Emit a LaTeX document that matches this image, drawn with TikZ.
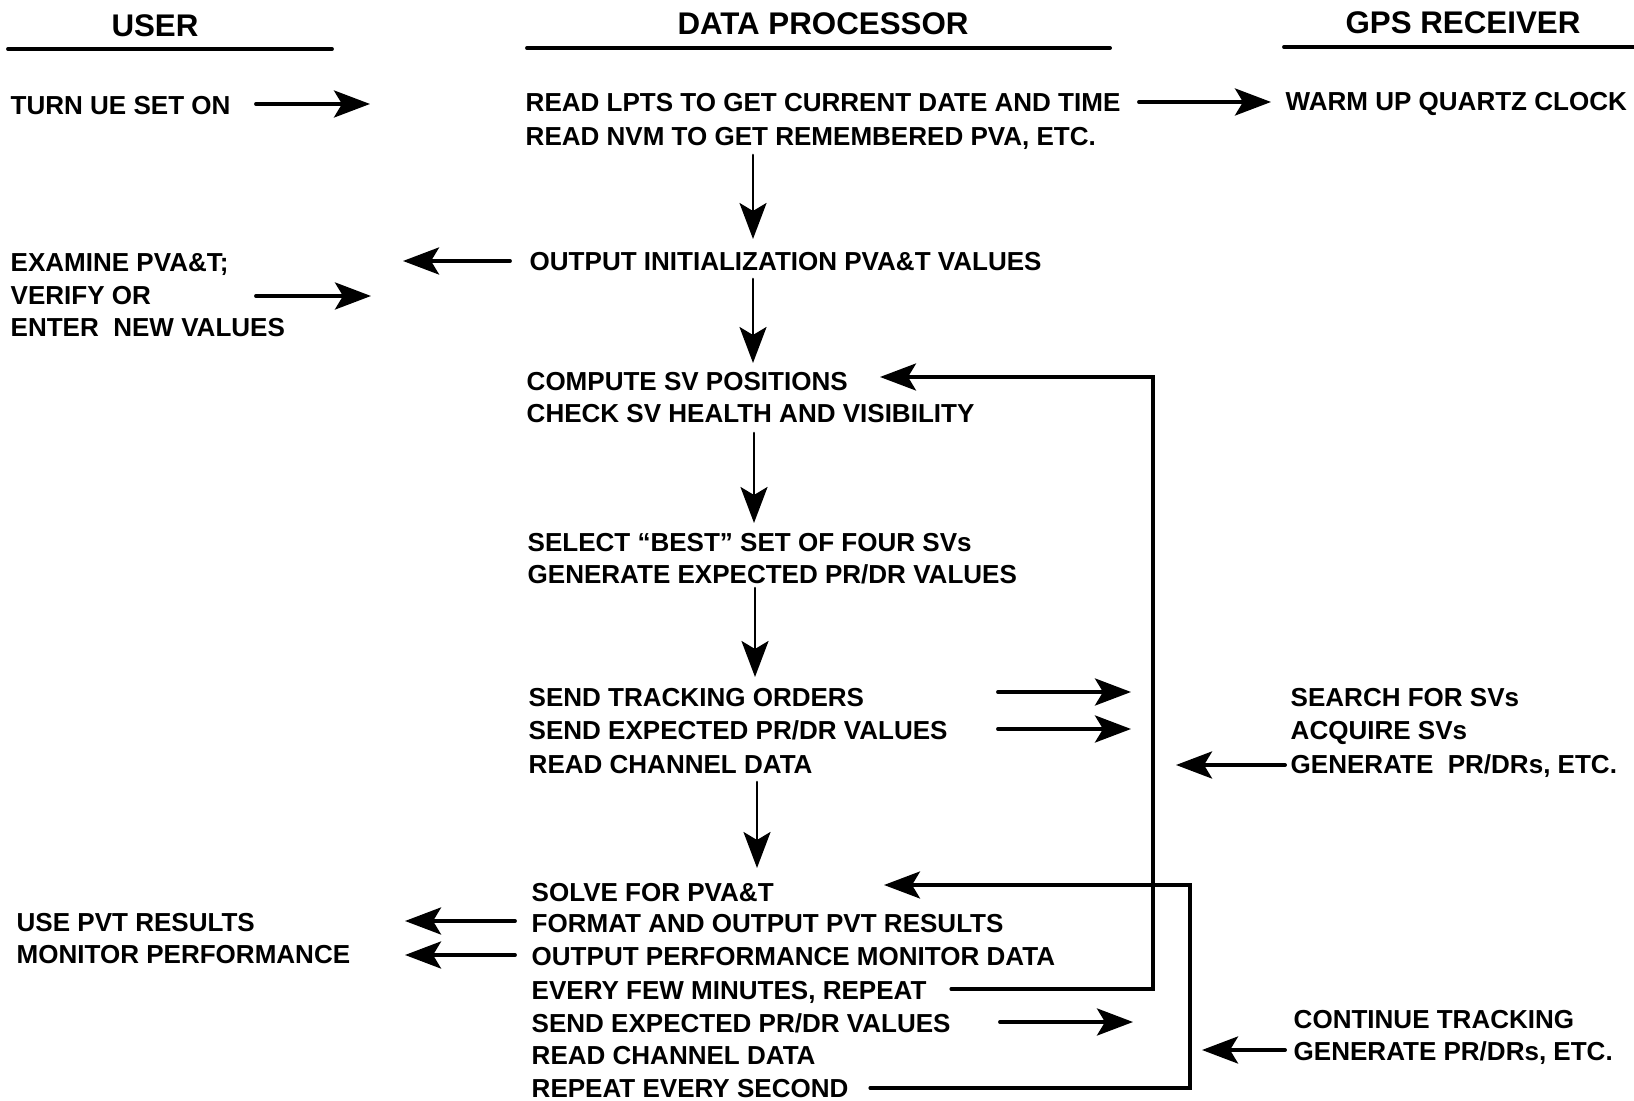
\documentclass[tikz,border=0pt]{standalone}
\usepackage{fontspec}
\setmainfont{Liberation Sans}
\usetikzlibrary{arrows.meta}

\begin{document}
\begin{tikzpicture}[x=0.01cm,y=-0.01cm,>={Stealth[length=3.6mm,width=2.7mm,inset=0.8mm]},
  font=\bfseries\fontsize{7.4}{9}\selectfont,line cap=round,
  item/.style={anchor=base west,inner sep=0pt},
  head/.style={anchor=base,inner sep=0pt,font=\bfseries\fontsize{8.9}{10}\selectfont},
  hflow/.style={->,line width=1.1pt},
  vflow/.style={->,line width=0.75pt},
  backflow/.style={->,line width=0.9pt}]
\useasboundingbox (0,0) rectangle (1634,1101);
% column heads
\node[head] (hUser) at (155,37) {USER};
\node[head] (hProc) at (823,35) {DATA PROCESSOR};
\node[head] (hGps) at (1463,34) {GPS RECEIVER};
\draw[line width=1.1pt] (8,49) -- (332,49);
\draw[line width=1.1pt] (527,48) -- (1110,48);
\draw[line width=1.1pt] (1284,47) -- (1634,47);
% user
\node[item] (turnon) at (10,115) {TURN UE SET ON};
\node[item] (examine) at (10,272) {EXAMINE PVA\&T;};
\node[item] (verify) at (10,305) {VERIFY OR};
\node[item] (enter) at (10,337) {ENTER\ \ NEW VALUES};
\node[item] (usepvt) at (16,931) {USE PVT RESULTS};
\node[item] (monitor) at (16,963) {MONITOR PERFORMANCE};
% data processor
\node[item] (readlpts) at (525,112) {READ LPTS TO GET CURRENT DATE AND TIME};
\node[item] (readnvm) at (525,146) {READ NVM TO GET REMEMBERED PVA, ETC.};
\node[item] (outinit) at (529,271) {OUTPUT INITIALIZATION PVA\&T VALUES};
\node[item] (compute) at (526,391) {COMPUTE SV POSITIONS};
\node[item] (check) at (526,423) {CHECK SV HEALTH AND VISIBILITY};
\node[item] (select) at (527,552) {SELECT ``BEST'' SET OF FOUR SVs};
\node[item] (genexp) at (527,584) {GENERATE EXPECTED PR/DR VALUES};
\node[item] (sendtrack) at (528,707) {SEND TRACKING ORDERS};
\node[item] (sendexp) at (528,739) {SEND EXPECTED PR/DR VALUES};
\node[item] (readchan) at (528,774) {READ CHANNEL DATA};
\node[item] (solve) at (531,901) {SOLVE FOR PVA\&T};
\node[item] (format) at (531,932) {FORMAT AND OUTPUT PVT RESULTS};
\node[item] (outperf) at (531,965) {OUTPUT PERFORMANCE MONITOR DATA};
\node[item] (everyfew) at (531,999) {EVERY FEW MINUTES, REPEAT};
\node[item] (sendexpb) at (531,1032) {SEND EXPECTED PR/DR VALUES};
\node[item] (readchanb) at (531,1064) {READ CHANNEL DATA};
\node[item] (repsec) at (531,1097) {REPEAT EVERY SECOND};
% gps receiver
\node[item] (warmup) at (1285,111) {WARM UP QUARTZ CLOCK};
\node[item] (search) at (1290,706) {SEARCH FOR SVs};
\node[item] (acquire) at (1290,739) {ACQUIRE SVs};
\node[item] (genpr) at (1290,774) {GENERATE\ \ PR/DRs, ETC.};
\node[item] (contin) at (1293,1028) {CONTINUE TRACKING};
\node[item] (genprb) at (1293,1060) {GENERATE PR/DRs, ETC.};
% arrow ends
\coordinate (onA) at (256,104); \coordinate (onB) at (370,104);
\coordinate (warmA) at (1139,102); \coordinate (warmB) at (1271,102);
\coordinate (initA) at (510,261); \coordinate (initB) at (403,261);
\coordinate (verA) at (256,296); \coordinate (verB) at (371,296);
\coordinate (d1A) at (753,155); \coordinate (d1B) at (753,239);
\coordinate (d2A) at (753,279); \coordinate (d2B) at (753,363);
\coordinate (d3A) at (754,433); \coordinate (d3B) at (754,523);
\coordinate (d4A) at (755,588); \coordinate (d4B) at (755,677);
\coordinate (d5A) at (757,782); \coordinate (d5B) at (757,868);
\coordinate (trkA) at (998,692); \coordinate (trkB) at (1131,692);
\coordinate (expA) at (998,729); \coordinate (expB) at (1131,729);
\coordinate (genA) at (1285,765); \coordinate (genB) at (1176,765);
\coordinate (fmtA) at (515,921); \coordinate (fmtB) at (405,921);
\coordinate (perfA) at (515,955); \coordinate (perfB) at (405,955);
\coordinate (expbA) at (1000,1022); \coordinate (expbB) at (1133,1022);
\coordinate (genbA) at (1285,1050); \coordinate (genbB) at (1202,1050);
\coordinate (fewA) at (951,989); \coordinate (fewC) at (1153,377); \coordinate (fewB) at (880,377);
\coordinate (secA) at (870,1088); \coordinate (secC) at (1190,885); \coordinate (secB) at (884,885);
% arrows
\draw[hflow] (onA) -- (onB);
\draw[hflow] (warmA) -- (warmB);
\draw[hflow] (initA) -- (initB);
\draw[hflow] (verA) -- (verB);
\draw[vflow] (d1A) -- (d1B);
\draw[vflow] (d2A) -- (d2B);
\draw[vflow] (d3A) -- (d3B);
\draw[vflow] (d4A) -- (d4B);
\draw[vflow] (d5A) -- (d5B);
\draw[hflow] (trkA) -- (trkB);
\draw[hflow] (expA) -- (expB);
\draw[hflow] (genA) -- (genB);
\draw[hflow] (fmtA) -- (fmtB);
\draw[hflow] (perfA) -- (perfB);
\draw[hflow] (expbA) -- (expbB);
\draw[hflow] (genbA) -- (genbB);
\draw[backflow] (fewA) -| (fewC) -- (fewB);
\draw[backflow] (secA) -| (secC) -- (secB);
\end{tikzpicture}
\end{document}
